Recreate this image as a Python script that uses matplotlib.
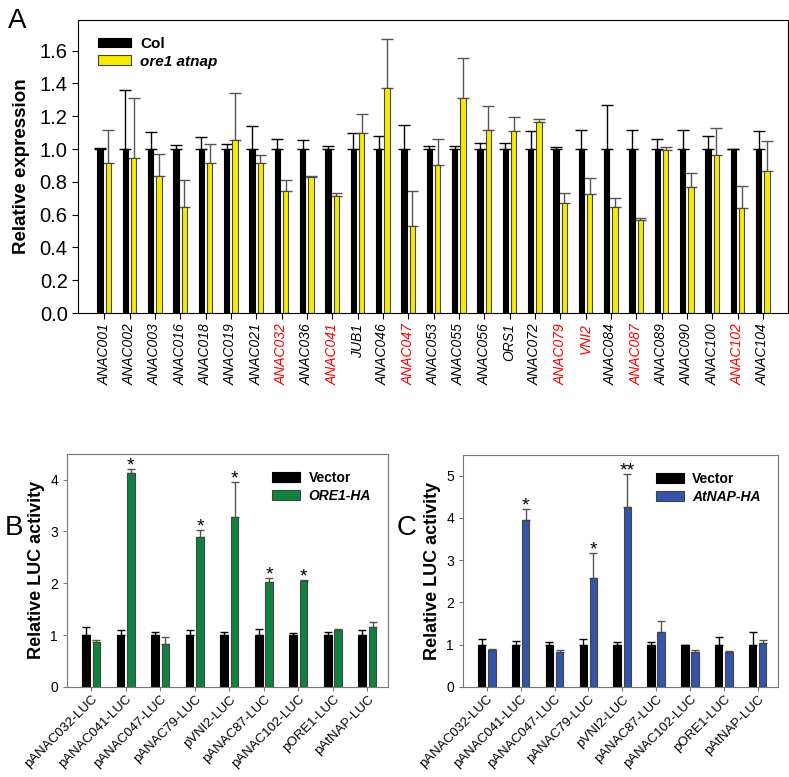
import matplotlib
matplotlib.use('Agg')
import matplotlib.pyplot as plt
import numpy as np

plt.rcParams['font.family'] = ['Liberation Sans', 'DejaVu Sans']

# panel A data
genes = ['ANAC001', 'ANAC002', 'ANAC003', 'ANAC016', 'ANAC018', 'ANAC019', 'ANAC021',
         'ANAC032', 'ANAC036', 'ANAC041', 'JUB1', 'ANAC046', 'ANAC047', 'ANAC053',
         'ANAC055', 'ANAC056', 'ORS1', 'ANAC072', 'ANAC079', 'VNI2', 'ANAC084',
         'ANAC087', 'ANAC089', 'ANAC090', 'ANAC100', 'ANAC102', 'ANAC104']
red_genes = ['ANAC032', 'ANAC041', 'ANAC047', 'ANAC079', 'VNI2', 'ANAC087', 'ANAC102']
col_mean = [1.0] * 27
col_top = [1.006, 1.358, 1.103, 1.022, 1.071, 1.032, 1.14, 1.061, 1.053, 1.02, 1.097, 1.079,
           1.146, 1.02, 1.02, 1.038, 1.036, 1.111, 1.01, 1.117, 1.269, 1.113, 1.063, 1.117,
           1.081, 1.0, 1.107]
mut_mean = [0.917, 0.945, 0.836, 0.644, 0.917, 1.055, 0.917, 0.743, 0.83, 0.711, 1.097, 1.37,
            0.53, 0.905, 1.312, 1.117, 1.111, 1.166, 0.672, 0.723, 0.644, 0.567, 0.992, 0.769,
            0.964, 0.638, 0.866]
mut_top = [1.113, 1.31, 0.968, 0.81, 1.03, 1.344, 0.964, 0.812, 0.838, 0.735, 1.213, 1.668,
           0.745, 1.063, 1.555, 1.261, 1.194, 1.186, 0.735, 0.822, 0.70, 0.579, 1.014, 0.856,
           1.128, 0.775, 1.049]

# panels B and C data
promoters = ['pANAC032-LUC', 'pANAC041-LUC', 'pANAC047-LUC', 'pANAC79-LUC', 'pVNI2-LUC',
             'pANAC87-LUC', 'pANAC102-LUC', 'pORE1-LUC', 'pAtNAP-LUC']
vec_mean = [1.0] * 9
b_vec_top = [1.15, 1.10, 1.06, 1.09, 1.06, 1.12, 1.04, 1.06, 1.10]
b_ore = [0.87, 4.13, 0.83, 2.90, 3.27, 2.02, 2.05, 1.10, 1.16]
b_ore_top = [0.90, 4.21, 0.97, 3.03, 3.96, 2.10, 2.07, 1.12, 1.26]
b_stars = ['', '*', '', '*', '*', '*', '*', '', '']
c_vec_top = [1.14, 1.09, 1.06, 1.14, 1.06, 1.07, 1.0, 1.19, 1.31]
c_nap = [0.88, 3.94, 0.83, 2.57, 4.27, 1.31, 0.82, 0.82, 1.04]
c_nap_top = [0.90, 4.21, 0.88, 3.17, 5.04, 1.56, 0.88, 0.86, 1.11]
c_stars = ['', '*', '', '*', '**', '', '', '', '']

YELLOW = '#f7ec00'
GREEN = '#10823f'
BLUE = '#3553a8'
ERRGREY = '#555555'

fig = plt.figure(figsize=(7.89, 7.77), dpi=100)


def pair_bars(ax, x, off, w, m1, t1, m2, t2, c2, lab1, lab2, cap):
    ax.bar(x - off, m1, w, color='black', edgecolor='black', linewidth=0.8, label=lab1, zorder=2)
    ax.errorbar(x - off, m1, yerr=[np.zeros(len(x)), np.array(t1) - np.array(m1)],
                fmt='none', ecolor='black', elinewidth=1, capsize=cap, capthick=1, zorder=1)
    ax.bar(x + off, m2, w, color=c2, edgecolor='#444444', linewidth=0.8, label=lab2, zorder=2)
    ax.errorbar(x + off, m2, yerr=[np.zeros(len(x)), np.array(t2) - np.array(m2)],
                fmt='none', ecolor=ERRGREY, elinewidth=1, capsize=cap, capthick=1, zorder=1)


def bold_legend(lg):
    lg.get_texts()[0].set_fontweight('bold')
    lg.get_texts()[1].set_fontweight('bold')
    lg.get_texts()[1].set_style('italic')


# ---- A ----
axA = fig.add_axes([0.099, 0.597, 0.9, 0.377])
x = np.arange(len(genes))
pair_bars(axA, x, 0.16, 0.21, col_mean, col_top, mut_mean, mut_top, YELLOW,
          'Col', 'ore1 atnap', 4)
axA.set_xlim(-1.03, 27.0)
axA.set_ylim(0, 1.785)
yt = np.arange(0, 1.61, 0.2)
axA.set_yticks(yt)
axA.set_yticklabels(['%.1f' % v for v in yt], fontsize=14.5)
axA.set_xticks(x)
axA.set_xticklabels(genes, rotation=90, fontsize=10, style='italic')
for lab in axA.get_xticklabels():
    if lab.get_text() in red_genes:
        lab.set_color('red')
axA.set_ylabel('Relative expression', fontsize=13.5, fontweight='bold', labelpad=7)
axA.tick_params(direction='out', length=4)
leg = axA.legend(loc='upper left', frameon=False, fontsize=11, handlelength=2.2,
                 handleheight=0.6, bbox_to_anchor=(0.008, 0.99), labelspacing=0.25,
                 handletextpad=0.6)
bold_legend(leg)


def luc_panel(rect, vec_top, mean2, top2, col, lab2, stars, ylim, yticks):
    ax = fig.add_axes(rect)
    xx = np.arange(len(promoters))
    pair_bars(ax, xx, 0.15, 0.22, vec_mean, vec_top, mean2, top2, col, 'Vector', lab2, 3)
    for xi, t, s in zip(xx, top2, stars):
        if s:
            ax.annotate(s, (xi + 0.15, t), xytext=(0, -4), textcoords='offset points',
                        ha='center', va='bottom', fontsize=14)
    ax.set_xlim(-0.7, 8.6)
    ax.set_ylim(0, ylim)
    ax.set_yticks(yticks)
    ax.tick_params(axis='y', labelsize=10, direction='out', length=3, color='#777777')
    ax.set_xticks(xx)
    ax.set_xticklabels(promoters, rotation=45, ha='right', rotation_mode='anchor',
                       fontsize=9.5)
    ax.tick_params(axis='x', direction='out', length=3, pad=1.5, color='#777777')
    for sp in ax.spines.values():
        sp.set_color('#777777')
    ax.set_ylabel('Relative LUC activity', fontsize=13, fontweight='bold')
    lg = ax.legend(loc='upper right', frameon=False, fontsize=10, handlelength=2.0,
                   handleheight=0.7, labelspacing=0.3, bbox_to_anchor=(0.985, 0.98),
                   handletextpad=0.6)
    bold_legend(lg)
    return ax


luc_panel([0.085, 0.116, 0.407, 0.3], b_vec_top, b_ore, b_ore_top, GREEN, 'ORE1-HA',
          b_stars, 4.5, [0, 1, 2, 3, 4])
luc_panel([0.587, 0.116, 0.399, 0.299], c_vec_top, c_nap, c_nap_top, BLUE, 'AtNAP-HA',
          c_stars, 5.5, [0, 1, 2, 3, 4, 5])

fig.text(0.01, 0.99, 'A', fontsize=20, va='top')
fig.text(0.006, 0.32, 'B', fontsize=20, va='center')
fig.text(0.503, 0.32, 'C', fontsize=20, va='center')

fig.savefig('out.png', dpi=100)
